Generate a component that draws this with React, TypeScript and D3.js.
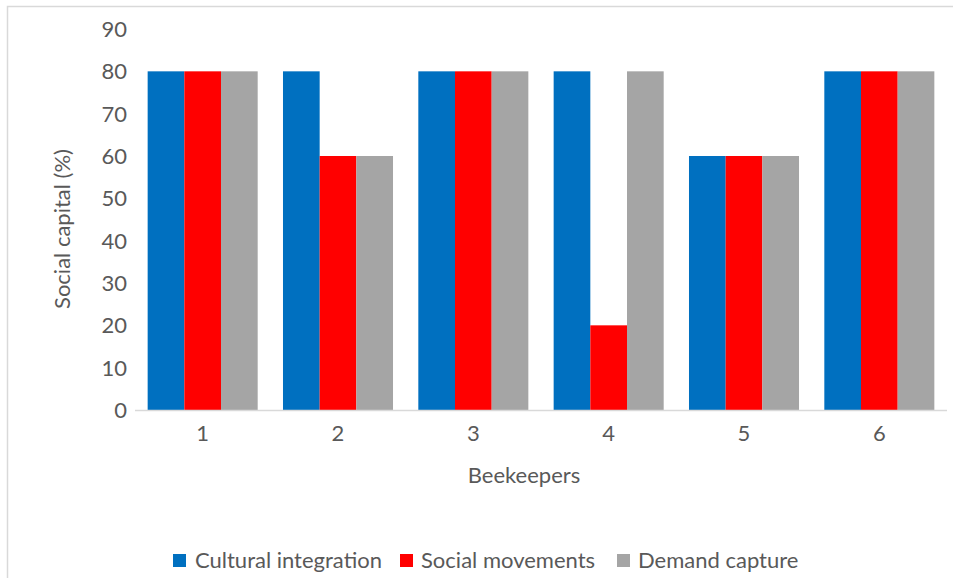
import React from "react";
import * as d3 from "d3";

const categories = ["1", "2", "3", "4", "5", "6"];
const seriesNames = ["Cultural integration", "Social movements", "Demand capture"];
const culturalIntegration = [80, 80, 80, 80, 60, 80];
const socialMovements = [80, 60, 80, 20, 60, 80];
const demandCapture = [80, 60, 80, 80, 60, 80];
const yTicks = [0, 10, 20, 30, 40, 50, 60, 70, 80, 90];
const colors = ["#0070C0", "#FF0000", "#A5A5A5"];

const W = 953;
const H = 578;
const FONT = "Lato, 'Open Sans', sans-serif";
const TEXT = "#595959";
const FS = 22;

export default function App() {
  const series = [culturalIntegration, socialMovements, demandCapture];
  const left = 135;
  const right = 947;
  const top = 29;
  const bottom = 410;

  const x0 = d3
    .scaleBand<string>()
    .domain(categories)
    .range([left, right])
    .paddingInner(0.187)
    .paddingOuter(0.0935);
  const x1 = d3
    .scaleBand<string>()
    .domain(seriesNames)
    .range([0, x0.bandwidth()]);
  const y = d3.scaleLinear().domain([0, 90]).range([bottom, top]);

  const legendItems = [
    { x: 173, textX: 195 },
    { x: 400, textX: 421 },
    { x: 617, textX: 638 },
  ];

  return (
    <svg
      width={W}
      height={H}
      style={{ position: "absolute", left: 0, top: 0, background: "#fff" }}
      fontFamily={FONT}
    >
      <rect x={7.5} y={6.5} width={1000} height={700} fill="#fff" stroke="#d9d9d9" strokeWidth={1.5} />

      {/* bars */}
      {categories.map((c, ci) => (
        <g key={c} transform={`translate(${x0(c)},0)`}>
          {series.map((vals, si) => (
            <rect
              key={si}
              x={x1(seriesNames[si])}
              y={y(vals[ci])}
              width={x1.bandwidth()}
              height={bottom - y(vals[ci])}
              fill={colors[si]}
            />
          ))}
        </g>
      ))}

      {/* category axis */}
      <line x1={left} x2={right} y1={bottom + 0.5} y2={bottom + 0.5} stroke="#d9d9d9" strokeWidth={1.5} />
      {categories.map((c) => (
        <text
          key={c}
          x={(x0(c) as number) + x0.bandwidth() / 2}
          y={441}
          textAnchor="middle"
          fontSize={FS}
          fill={TEXT}
        >
          {c}
        </text>
      ))}

      {/* value axis labels */}
      {yTicks.map((t) => (
        <text key={t} x={127} y={y(t)} dy="0.36em" textAnchor="end" fontSize={FS} fill={TEXT}>
          {t}
        </text>
      ))}

      {/* axis titles */}
      <text x={524} y={483} textAnchor="middle" fontSize={FS} fill={TEXT}>
        Beekeepers
      </text>
      <text
        transform="translate(70,229) rotate(-90)"
        textAnchor="middle"
        fontSize={FS}
        fill={TEXT}
      >
        Social capital (%)
      </text>

      {/* legend */}
      {seriesNames.map((name, i) => (
        <g key={name}>
          <rect x={legendItems[i].x} y={554} width={13} height={13} fill={colors[i]} />
          <text x={legendItems[i].textX} y={568} fontSize={FS} fill={TEXT}>
            {name}
          </text>
        </g>
      ))}
    </svg>
  );
}
